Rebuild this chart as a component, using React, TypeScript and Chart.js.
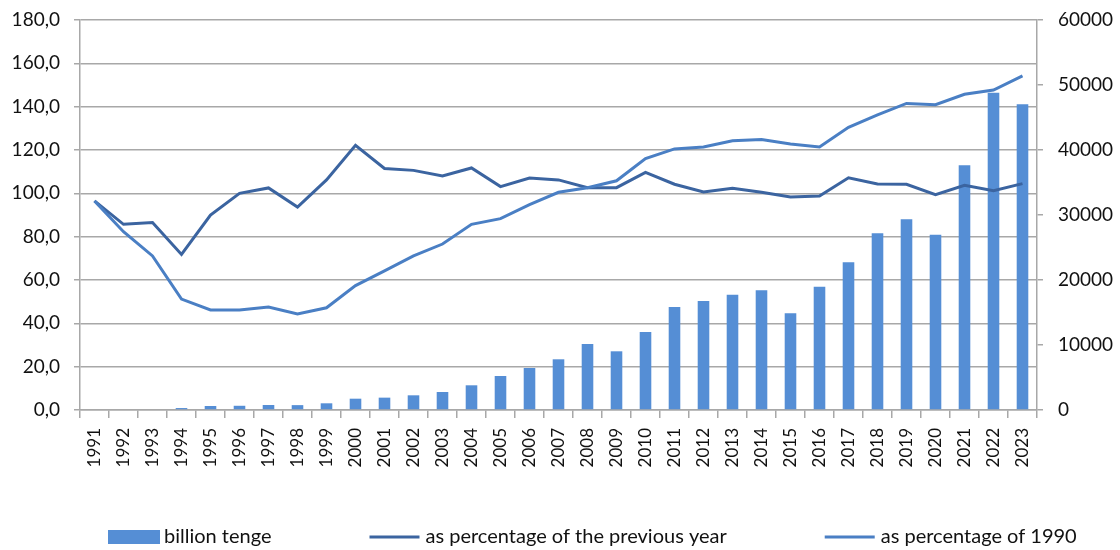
import React, { useEffect, useRef } from "react";
import { Chart, registerables } from "chart.js";

Chart.register(...registerables);

const years: string[] = [
  "1991", "1992", "1993", "1994", "1995", "1996", "1997", "1998", "1999", "2000",
  "2001", "2002", "2003", "2004", "2005", "2006", "2007", "2008", "2009", "2010",
  "2011", "2012", "2013", "2014", "2015", "2016", "2017", "2018", "2019", "2020",
  "2021", "2022", "2023",
];

const billionTenge: (number | null)[] = [
  null, null, null, 300, 620, 650, 770, 750, 1030, 1740,
  1900, 2260, 2770, 3800, 5230, 6460, 7800, 10150, 9030, 12000,
  15850, 16770, 17740, 18410, 14870, 18970, 22720, 27180, 29330, 26970,
  37640, 48820, 47030,
];

const pctPrevYear: number[] = [
  96.5, 85.7, 86.5, 71.8, 90.0, 100.0, 102.5, 93.7, 106.2, 122.2,
  111.5, 110.6, 108.0, 111.7, 103.1, 107.1, 106.2, 102.6, 102.6, 109.7,
  104.2, 100.6, 102.3, 100.5, 98.3, 98.8, 107.2, 104.3, 104.2, 99.4,
  103.7, 101.2, 104.5,
];

const pct1990: number[] = [
  96.5, 82.3, 71.1, 51.2, 46.2, 46.2, 47.5, 44.3, 47.2, 57.4,
  64.2, 71.1, 76.6, 85.7, 88.3, 94.8, 100.5, 102.6, 105.8, 116.0,
  120.5, 121.4, 124.3, 124.8, 122.8, 121.4, 130.5, 136.2, 141.5, 140.9,
  145.7, 147.7, 154.2,
];

const seriesLabels = [
  "billion tenge",
  "as percentage of the previous year",
  "as percentage of 1990",
];

const BAR_COLOR = "#558ED5";
const DARK_LINE = "#3B64A0";
const LIGHT_LINE = "#4A7FC4";
const GRID = "#A8A8A8";
const TEXT = "#111";

const legendPlugin = {
  id: "customLegend",
  afterDraw(chart: any) {
    const ctx = chart.ctx as CanvasRenderingContext2D;
    ctx.save();
    ctx.font = "20px Lato";
    ctx.textBaseline = "middle";
    ctx.textAlign = "left";
    let x = 108;
    const y = 537;
    chart.data.datasets.forEach((ds: any) => {
      if (ds.type === "bar") {
        ctx.fillStyle = ds.backgroundColor;
        ctx.fillRect(x, y - 7, 52, 14);
      } else {
        ctx.strokeStyle = ds.borderColor;
        ctx.lineWidth = 3;
        ctx.beginPath();
        ctx.moveTo(x, y);
        ctx.lineTo(x + 50, y);
        ctx.stroke();
      }
      x += 56;
      ctx.fillStyle = TEXT;
      ctx.fillText(ds.label, x, y);
      x += ctx.measureText(ds.label).width + 98;
    });
    ctx.restore();
  },
};

export default function App() {
  const ref = useRef<HTMLCanvasElement | null>(null);

  useEffect(() => {
    document.body.style.margin = "0";
    if (!ref.current) return;
    const chart = new Chart(ref.current, {
      type: "bar",
      data: {
        labels: years,
        datasets: [
          {
            type: "bar",
            label: seriesLabels[0],
            data: billionTenge,
            backgroundColor: BAR_COLOR,
            yAxisID: "y1",
            categoryPercentage: 0.8,
            barPercentage: 0.5,
            order: 3,
          },
          {
            type: "line",
            label: seriesLabels[1],
            data: pctPrevYear,
            borderColor: DARK_LINE,
            backgroundColor: DARK_LINE,
            borderWidth: 3,
            pointRadius: 0,
            tension: 0,
            yAxisID: "y",
            order: 2,
          },
          {
            type: "line",
            label: seriesLabels[2],
            data: pct1990,
            borderColor: LIGHT_LINE,
            backgroundColor: LIGHT_LINE,
            borderWidth: 3,
            pointRadius: 0,
            tension: 0,
            yAxisID: "y",
            order: 1,
          },
        ] as any,
      },
      options: {
        responsive: false,
        animation: false,
        layout: { padding: { top: 20, left: 0, right: 0, bottom: 0 } },
        plugins: {
          legend: { display: false },
          tooltip: { enabled: false },
        },
        scales: {
          x: {
            offset: true,
            grid: {
              offset: true,
              drawOnChartArea: false,
              drawTicks: true,
              tickLength: 8,
              color: GRID,
              lineWidth: 1.5,
            },
            border: { color: GRID, width: 1.5 },
            ticks: {
              autoSkip: false,
              minRotation: 90,
              maxRotation: 90,
              padding: 10,
              color: TEXT,
              font: { family: "Lato", size: 17 },
            },
            afterFit(scale: any) {
              scale.height = 140;
              scale.paddingLeft = 0;
              scale.paddingRight = 0;
            },
          },
          y: {
            position: "left",
            min: 0,
            max: 180,
            ticks: {
              stepSize: 20,
              padding: 14,
              color: TEXT,
              font: { family: "Lato", size: 19 },
              callback: (v: any) => Number(v).toFixed(1).replace(".", ","),
            },
            grid: {
              color: GRID,
              lineWidth: 1.5,
              tickLength: 6,
            },
            border: { color: GRID, width: 1.5 },
            afterFit(scale: any) {
              scale.width = 80;
              scale.paddingTop = 0;
              scale.paddingBottom = 0;
            },
          },
          y1: {
            position: "right",
            min: 0,
            max: 60000,
            ticks: {
              stepSize: 10000,
              padding: 15,
              color: TEXT,
              font: { family: "Lato", size: 19 },
              callback: (v: any) => String(v),
            },
            grid: {
              drawOnChartArea: false,
              color: GRID,
              lineWidth: 1.5,
              tickLength: 6,
            },
            border: { color: GRID, width: 1.5 },
            afterFit(scale: any) {
              scale.width = 83;
              scale.paddingTop = 0;
              scale.paddingBottom = 0;
            },
          },
        },
      } as any,
      plugins: [legendPlugin],
    });
    return () => chart.destroy();
  }, []);

  return (
    <div style={{ width: 1120, height: 550 }}>
      <canvas ref={ref} width={1120} height={550} />
    </div>
  );
}
